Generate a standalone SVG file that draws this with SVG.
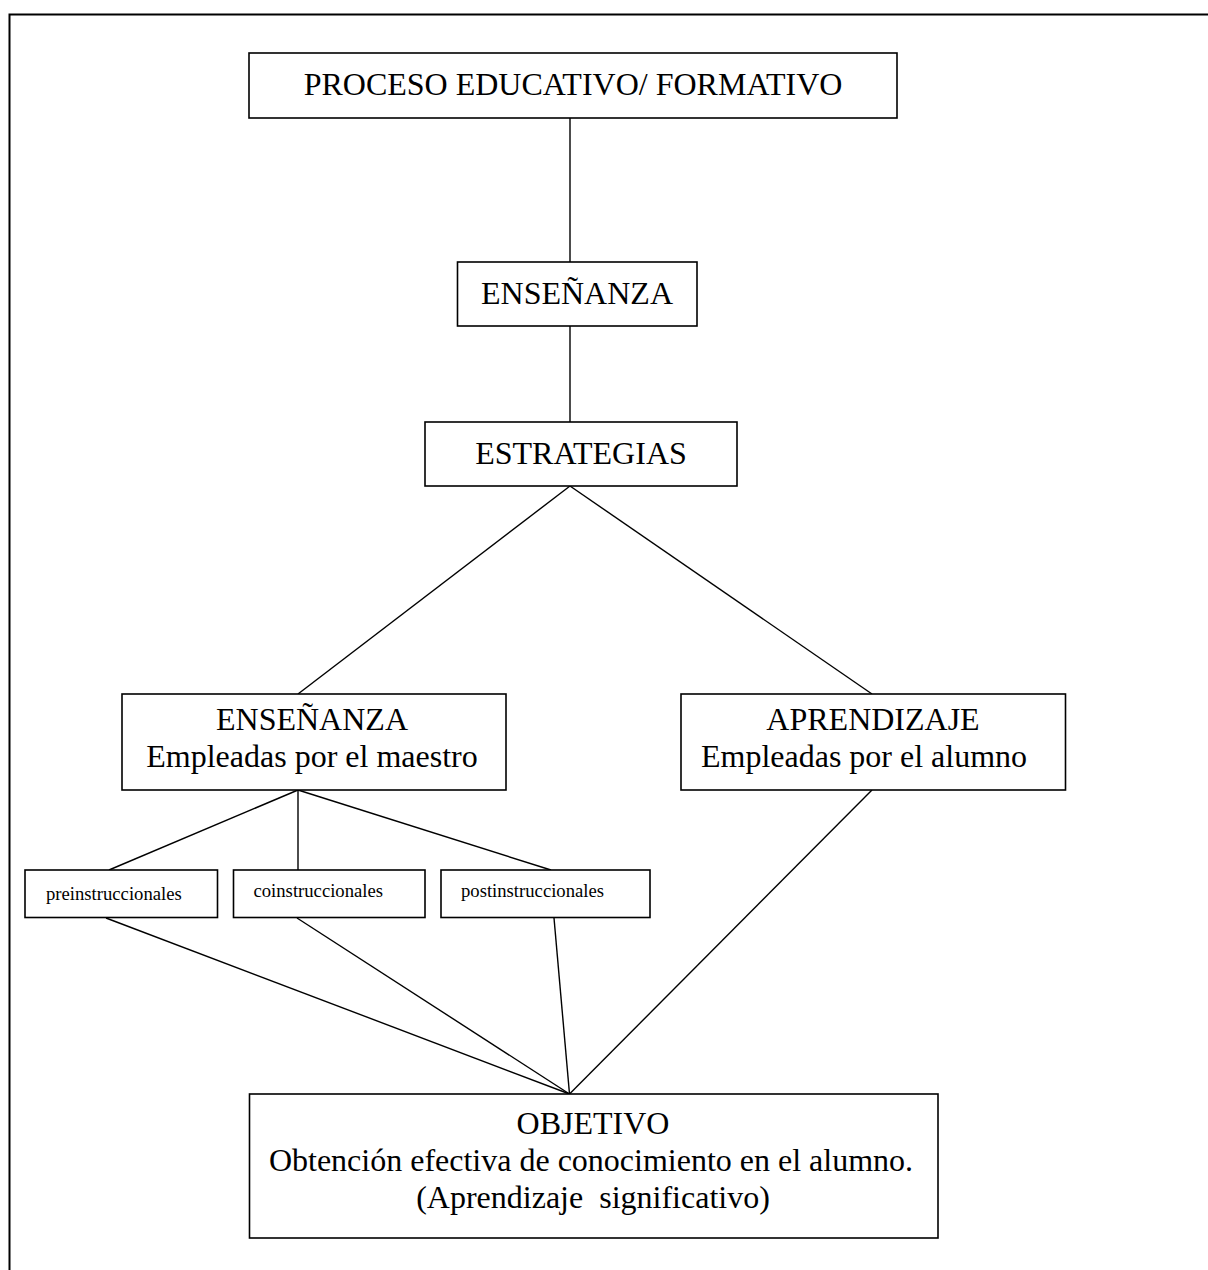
<svg xmlns="http://www.w3.org/2000/svg" width="1208" height="1270" viewBox="0 0 1208 1270">
<style>
.box{fill:#fff;stroke:#000;stroke-width:1.6}
.ln{stroke:#000;stroke-width:1.4;fill:none}
.big{font-family:"Liberation Serif","Times New Roman",serif;font-size:32px;fill:#000;text-anchor:middle}
.sm{font-family:"Liberation Serif","Times New Roman",serif;font-size:18.67px;fill:#000}
</style>
<rect x="9.5" y="14.5" width="1300" height="1300" fill="#fff" stroke="#000" stroke-width="2"/>
<g id="connectors">
<line class="ln" x1="570" y1="118" x2="570" y2="262"/>
<line class="ln" x1="570" y1="326" x2="570" y2="422"/>
<line class="ln" x1="570" y1="486" x2="298" y2="694"/>
<line class="ln" x1="570" y1="486" x2="872" y2="694"/>
<line class="ln" x1="298" y1="790" x2="109" y2="870"/>
<line class="ln" x1="298" y1="790" x2="298" y2="870"/>
<line class="ln" x1="298" y1="790" x2="551" y2="870"/>
<line class="ln" x1="106" y1="918" x2="569.5" y2="1094"/>
<line class="ln" x1="297" y1="918" x2="569.5" y2="1094"/>
<line class="ln" x1="554" y1="918" x2="569.5" y2="1094"/>
<line class="ln" x1="872" y1="790" x2="569.5" y2="1094"/>
</g>
<g id="proceso">
<rect class="box" x="249" y="53" width="648" height="65"/>
<text class="big" x="573" y="95">PROCESO EDUCATIVO/ FORMATIVO</text>
</g>
<g id="ensenanza1">
<rect class="box" x="457.5" y="262" width="239.5" height="64"/>
<text class="big" x="577" y="304">ENSEÑANZA</text>
</g>
<g id="estrategias">
<rect class="box" x="425" y="422" width="312" height="64"/>
<text class="big" x="581" y="464">ESTRATEGIAS</text>
</g>
<g id="ensenanza2">
<rect class="box" x="122" y="694" width="384" height="96"/>
<text class="big" x="312" y="730">ENSEÑANZA</text>
<text class="big" x="312" y="767">Empleadas por el maestro</text>
</g>
<g id="aprendizaje">
<rect class="box" x="681" y="694" width="384.5" height="96"/>
<text class="big" x="873" y="730">APRENDIZAJE</text>
<text class="big" x="864" y="767">Empleadas por el alumno</text>
</g>
<g id="pre">
<rect class="box" x="25" y="870" width="192.5" height="47.5"/>
<text class="sm" x="46" y="900">preinstruccionales</text>
</g>
<g id="co">
<rect class="box" x="233.5" y="870" width="191.5" height="47.5"/>
<text class="sm" x="253.5" y="897">coinstruccionales</text>
</g>
<g id="post">
<rect class="box" x="441" y="870" width="209" height="47.5"/>
<text class="sm" x="461" y="897">postinstruccionales</text>
</g>
<g id="objetivo">
<rect class="box" x="249.5" y="1094" width="688.5" height="144"/>
<text class="big" x="593" y="1134">OBJETIVO</text>
<text class="big" x="591" y="1171">Obtención efectiva de conocimiento en el alumno.</text>
<text class="big" x="593" y="1208" xml:space="preserve">(Aprendizaje  significativo)</text>
</g>
</svg>
